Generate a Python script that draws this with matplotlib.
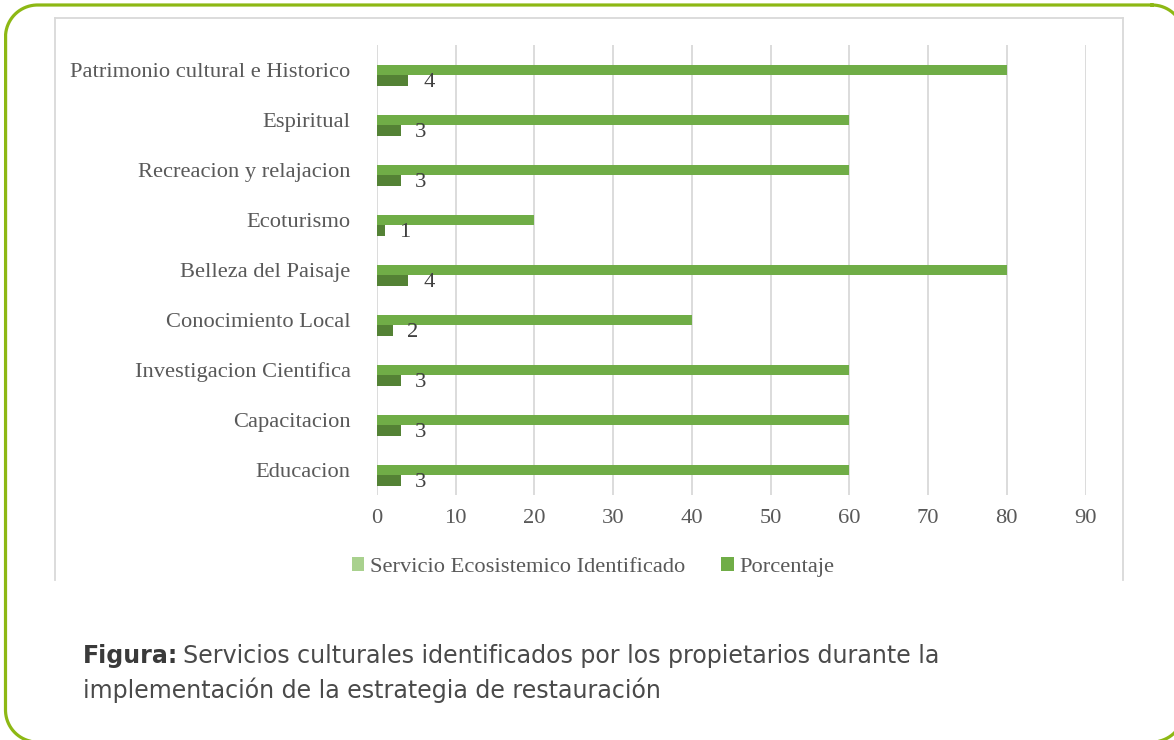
import matplotlib
matplotlib.use("Agg")
import numpy as np
import matplotlib.pyplot as plt
from matplotlib.patches import Patch
from matplotlib.lines import Line2D

categories = ["Patrimonio cultural e Historico", "Espiritual", "Recreacion y relajacion",
              "Ecoturismo", "Belleza del Paisaje", "Conocimiento Local",
              "Investigacion Cientifica", "Capacitacion", "Educacion"]
porcentaje = [80, 60, 60, 20, 80, 40, 60, 60, 60]
servicio = [4, 3, 3, 1, 4, 2, 3, 3, 3]
xticks = [0, 10, 20, 30, 40, 50, 60, 70, 80, 90]
legend_labels = ["Servicio Ecosistemico Identificado", "Porcentaje"]
caption_bold = "Figura:"
caption_line1 = "Servicios culturales identificados por los propietarios durante la"
caption_line2 = "implementación de la estrategia de restauración"

W, H = 1174, 740
fig = plt.figure(figsize=(W / 100, H / 100), dpi=100)
fig.patch.set_facecolor("white")

SERIF = ["Liberation Serif", "DejaVu Serif"]
TXT = "#595959"
GREEN = "#70AD47"
DARK = "#548235"
LIGHT = "#A9D18E"
GRID = "#D9D9D9"
FS = 16.2

# overlay in pixel coordinates (origin top-left, y down) for the frames
bg = fig.add_axes([0, 0, 1, 1], zorder=-1)
bg.set_xlim(0, W)
bg.set_ylim(H, 0)
bg.axis("off")

# rounded outer frame as a dense polyline (extends past right/bottom edge)
bx0, bx1, by0, by1, r = 5.5, 1184, 5, 742, 32
pts_x, pts_y = [], []
corners = [((bx1 - r, by0 + r), -90, 0), ((bx1 - r, by1 - r), 0, 90),
           ((bx0 + r, by1 - r), 90, 180), ((bx0 + r, by0 + r), 180, 270)]
for (cx, cy), a0, a1 in corners:
    t = np.radians(np.linspace(a0, a1, 40))
    pts_x.extend(cx + r * np.cos(t))
    pts_y.extend(cy + r * np.sin(t))
pts_x.append(pts_x[0])
pts_y.append(pts_y[0])
bg.add_line(Line2D(pts_x, pts_y, color="#8DB814", linewidth=2.3, solid_joinstyle="round"))

for xs, ys in [((55, 1123), (18, 18)), ((55, 55), (18, 580)), ((1123, 1123), (18, 580))]:
    bg.add_line(Line2D(xs, ys, color=GRID, linewidth=1.3))

ax = fig.add_axes([377 / W, 1 - 495 / H, (1085.5 - 377) / W, 450 / H])
n = len(categories)
ypos = list(range(n))
bh = 0.21
ax.barh(ypos, porcentaje, height=bh, color=GREEN, zorder=3)
ax.barh([y + bh for y in ypos], servicio, height=bh, color=DARK, zorder=3)
for y, v in zip(ypos, servicio):
    ax.annotate(str(v), (v, y + bh), xytext=(10.5, -1.5), textcoords="offset points",
                ha="left", va="center", fontsize=FS, color="#404040", family=SERIF)

ax.set_xlim(0, 90)
ax.set_ylim(n - 0.5, -0.5)
ax.set_xticks(xticks)
ax.set_xticklabels([str(t) for t in xticks], fontsize=FS, color=TXT, family=SERIF)
ax.set_yticks(ypos)
ax.set_yticklabels(categories, fontsize=FS, color=TXT, family=SERIF)
ax.tick_params(axis="both", length=0)
ax.tick_params(axis="y", pad=19)
ax.tick_params(axis="x", pad=10)
ax.grid(axis="x", color=GRID, linewidth=1.3, zorder=0)
for s in ax.spines.values():
    s.set_visible(False)

handles = [Patch(facecolor=LIGHT, edgecolor="none"), Patch(facecolor=GREEN, edgecolor="none")]
leg = fig.legend(handles, legend_labels, loc="center", bbox_to_anchor=(593 / W, 1 - 567 / H),
                 ncol=2, frameon=False, handlelength=0.55, handleheight=0.55,
                 handletextpad=0.25, columnspacing=1.6,
                 prop={"family": SERIF, "size": FS})
for t in leg.get_texts():
    t.set_color(TXT)

CAP = ["DejaVu Sans"]
fs_cap = 17.1
tb = fig.text(83 / W, 1 - 663 / H, caption_bold, fontsize=fs_cap, fontweight="bold",
              color="#3a3a3a", family=CAP, va="baseline", ha="left")
fig.canvas.draw()
bb = tb.get_window_extent(fig.canvas.get_renderer())
fig.text(bb.x1 / W + 5 / W, 1 - 663 / H, caption_line1, fontsize=fs_cap, color="#4a4a4a",
         family=CAP, va="baseline", ha="left")
fig.text(83 / W, 1 - 698 / H, caption_line2, fontsize=fs_cap, color="#4a4a4a",
         family=CAP, va="baseline", ha="left")

fig.savefig("out.png", dpi=100, facecolor="white")
